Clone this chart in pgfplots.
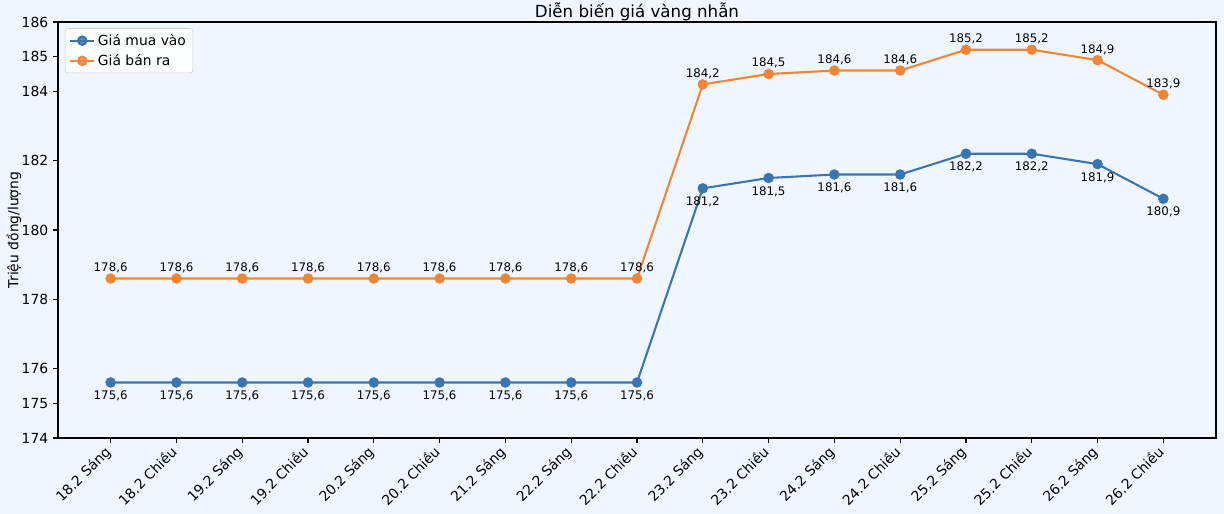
\documentclass[border=0pt]{standalone}
\usepackage{pgfplots}
\pgfplotsset{compat=1.18}
\usepackage{fontspec}
\setmainfont{DejaVu Sans}
\definecolor{bgc}{RGB}{240,246,255}
\definecolor{cblue}{RGB}{59,117,175}
\definecolor{corange}{RGB}{239,134,54}
\begin{document}
\begin{tikzpicture}[x=1pt,y=1pt]
\fill[bgc] (-41.76pt,-54.72pt) rectangle (839.56pt,315.34pt);
\useasboundingbox (-41.76pt,-54.72pt) rectangle (839.56pt,315.34pt);
\begin{axis}[
  name=ax,
  scale only axis,
  width=833.8pt, height=299.5pt,
  at={(0,0)}, anchor=south west,
  xmin=-0.8, xmax=16.8, ymin=174, ymax=186,
  axis background/.style={fill=bgc},
  xtick={0,...,16},
  xticklabels={18.2 Sáng,18.2 Chiều,19.2 Sáng,19.2 Chiều,20.2 Sáng,20.2 Chiều,21.2 Sáng,22.2 Sáng,22.2 Chiều,23.2 Sáng,23.2 Chiều,24.2 Sáng,24.2 Chiều,25.2 Sáng,25.2 Chiều,26.2 Sáng,26.2 Chiều},
  x tick label style={xshift=-5pt, rotate=45, anchor=north east, font=\fontsize{10}{12}\selectfont, inner sep=1pt},
  ytick={174,175,176,178,180,182,184,185,186},
  yticklabel style={font=\fontsize{10}{12}\selectfont, /pgf/number format/fixed, /pgf/number format/precision=0},
  /pgf/number format/assume math mode=true,
  tick align=outside, major tick length=3.5pt,
  tick style={black, line width=0.8pt},
  xtick pos=bottom, ytick pos=left,
  axis line style={black, line width=0.8pt},
  ylabel={Triệu đồng/lượng},
  ylabel style={font=\fontsize{10}{12}\selectfont, at={(axis description cs:-0.038,0.5)}, anchor=center},
  legend style={font=\fontsize{10}{12}\selectfont, draw=black!20, rounded corners=2pt, fill=white, fill opacity=0.8, text opacity=1, at={(0.006,0.985)}, anchor=north west, row sep=1pt},
  legend cell align=left,
  nodes near coords={\pgfmathprintnumber[use comma,fixed,fixed zerofill,precision=1]{\pgfplotspointmeta}},
  every node near coord/.append style={font=\fontsize{8.5}{10}\selectfont, text=black},
]
\addplot[color=cblue, line width=1.5pt, mark=*, mark size=3pt, mark options={solid, fill=cblue},
  every node near coord/.append style={anchor=north, yshift=-2pt}]
coordinates {(0,175.6)(1,175.6)(2,175.6)(3,175.6)(4,175.6)(5,175.6)(6,175.6)(7,175.6)(8,175.6)(9,181.2)(10,181.5)(11,181.6)(12,181.6)(13,182.2)(14,182.2)(15,181.9)(16,180.9)};
\addlegendentry{Giá mua vào}
\addplot[color=corange, line width=1.5pt, mark=*, mark size=3pt, mark options={solid, fill=corange},
  every node near coord/.append style={anchor=south, yshift=0pt}]
coordinates {(0,178.6)(1,178.6)(2,178.6)(3,178.6)(4,178.6)(5,178.6)(6,178.6)(7,178.6)(8,178.6)(9,184.2)(10,184.5)(11,184.6)(12,184.6)(13,185.2)(14,185.2)(15,184.9)(16,183.9)};
\addlegendentry{Giá bán ra}
\end{axis}
\node[font=\fontsize{12}{14}\selectfont, anchor=base, inner sep=0pt] at ([yshift=3.6pt]ax.north) {Diễn biến giá vàng nhẫn};
\end{tikzpicture}
\end{document}
